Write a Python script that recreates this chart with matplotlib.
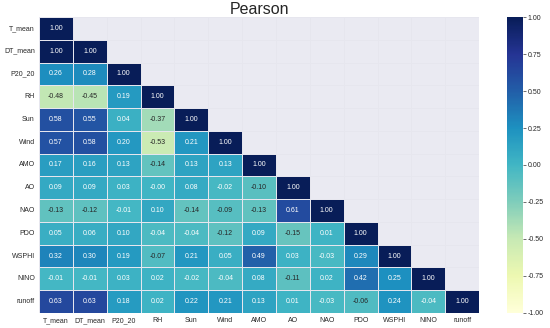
import numpy as np
import matplotlib
matplotlib.use("Agg")
import matplotlib.pyplot as plt
import seaborn as sns

labels = ["T_mean", "DT_mean", "P20_20", "RH", "Sun", "Wind", "AMO", "AO",
          "NAO", "PDO", "WSPHI", "NINO", "runoff"]

rows = [
    [1.00],
    [1.00, 1.00],
    [0.26, 0.28, 1.00],
    [-0.48, -0.45, 0.19, 1.00],
    [0.58, 0.55, 0.04, -0.37, 1.00],
    [0.57, 0.58, 0.20, -0.53, 0.21, 1.00],
    [0.17, 0.16, 0.13, -0.14, 0.13, 0.13, 1.00],
    [0.09, 0.09, 0.03, -0.00, 0.08, -0.02, -0.10, 1.00],
    [-0.13, -0.12, -0.01, 0.10, -0.14, -0.09, -0.13, 0.61, 1.00],
    [0.05, 0.06, 0.10, -0.04, -0.04, -0.12, 0.09, -0.15, 0.01, 1.00],
    [0.32, 0.30, 0.19, -0.07, 0.21, 0.05, 0.49, 0.03, -0.03, 0.29, 1.00],
    [-0.01, -0.01, 0.03, 0.02, -0.02, -0.04, 0.08, -0.11, 0.02, 0.42, 0.25, 1.00],
    [0.63, 0.63, 0.18, 0.02, 0.22, 0.21, 0.13, 0.01, -0.03, -0.06, 0.24, -0.04, 1.00],
]

n = len(labels)
corr = np.zeros((n, n))
for i, r in enumerate(rows):
    for j, v in enumerate(r):
        corr[i, j] = v
        corr[j, i] = v
mask = np.triu(np.ones((n, n), dtype=bool), k=1)

sns.set_theme(style="darkgrid")
plt.rcParams["font.family"] = ["Liberation Sans", "DejaVu Sans"]

fig = plt.figure(figsize=(5.5, 3.28), dpi=100)
ax = fig.add_axes([0.071, 0.046, 0.800, 0.902])
cax = fig.add_axes([0.922, 0.046, 0.029, 0.902])

sns.heatmap(corr, mask=mask, cmap="YlGnBu", vmin=-1, vmax=1, annot=True, fmt=".2f",
            annot_kws={"fontsize": 5}, linewidths=0.4, linecolor="#e6e6ee",
            xticklabels=labels, yticklabels=labels, ax=ax, cbar_ax=cax,
            cbar_kws={"ticks": np.arange(-1, 1.01, 0.25)})

ax.set_xticks(np.arange(n + 1), minor=True)
ax.set_yticks(np.arange(n + 1), minor=True)
ax.grid(which="major", visible=False)
ax.grid(which="minor", color="white", linewidth=0.6)
ax.tick_params(which="minor", length=0)
ax.set_axisbelow(True)
ax.tick_params(axis="both", labelsize=5, length=0, pad=3)
plt.setp(ax.get_xticklabels(), rotation=0)
plt.setp(ax.get_yticklabels(), rotation=0)
ax.set_title("Pearson", fontsize=11.5, pad=2)

cax.tick_params(labelsize=5, length=2, width=0.5, pad=1.5, right=True, color="#333333")
cax.yaxis.set_major_formatter(matplotlib.ticker.FormatStrFormatter("%.2f"))
for s in cax.spines.values():
    s.set_visible(False)

fig.savefig("out.png", dpi=100)
